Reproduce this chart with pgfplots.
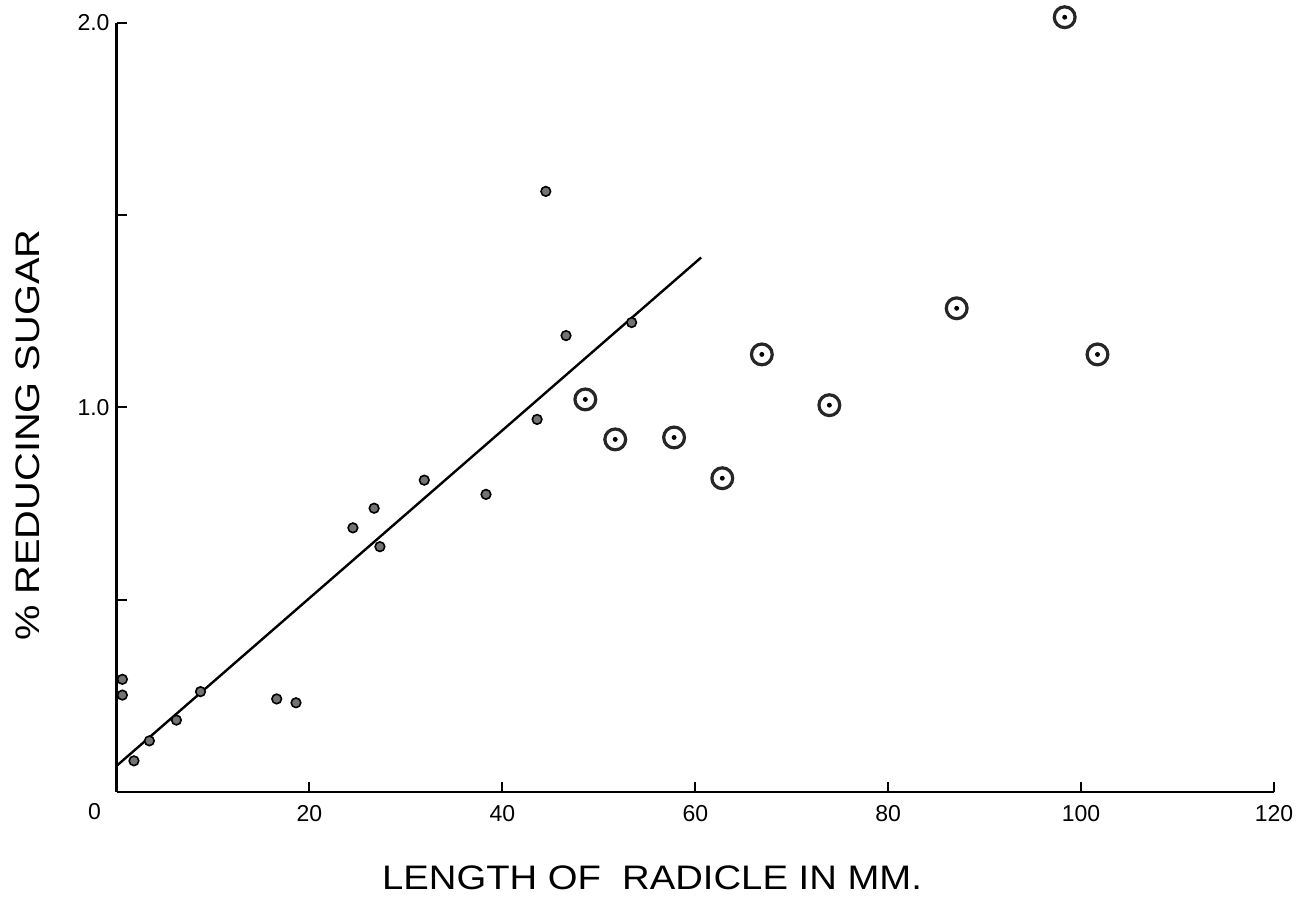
\documentclass[border=0pt]{standalone}
\usepackage{graphicx}
\usepackage{pgfplots}
\pgfplotsset{compat=1.18}
\usepackage{fontspec}
\setmainfont{Liberation Sans}
\begin{document}
\begin{tikzpicture}
\path[use as bounding box] (-58.3pt,-52.5pt) rectangle (590.7pt,396pt);
\begin{axis}[
  at={(0,0)}, anchor=south west,
  scale only axis, width=578.7pt, height=384.5pt,
  xmin=0, xmax=120, ymin=0, ymax=2,
  axis lines=left, axis line style={-, line width=1.1pt},
  xtick={0,20,40,60,80,100,120}, xticklabels={,20,40,60,80,100,120},
  ytick={0,0.5,1,1.5,2}, yticklabels={,,1.0,,2.0},
  tick align=inside, major tick length=5pt,
  tick style={line width=1pt, black},
  /pgf/number format/assume math mode=true,
  ticklabel style={font=\fontsize{11.5}{13}\selectfont},
  xticklabel style={yshift=-3pt},
  clip=false,
]
% regression line
\addplot[black, line width=1.2pt] coordinates {(0,0.068) (60.6,1.39)};
% small points
\addplot[only marks, mark=*, mark size=2.4pt, mark options={fill=black!55, draw=black, line width=0.8pt}] coordinates {
(0.6,0.293) (0.6,0.252) (1.8,0.081) (3.4,0.133) (6.2,0.187) (8.7,0.261)
(16.6,0.242) (18.6,0.232) (24.5,0.687) (26.7,0.738) (27.3,0.638)
(31.9,0.811) (38.3,0.774) (43.6,0.969) (44.5,1.562) (46.6,1.187) (53.4,1.221)
};
% large circled points
\addplot[only marks, mark=o, mark size=5.2pt, mark options={line width=1.6pt, draw=black!85}] coordinates {
(48.6,1.021) (51.7,0.917) (57.8,0.922) (62.8,0.816) (66.9,1.138)
(73.9,1.006) (87.1,1.258) (98.3,2.015) (101.7,1.138)
};
\addplot[only marks, mark=*, mark size=1pt, mark options={fill=black, draw=black}] coordinates {
(48.6,1.021) (51.7,0.917) (57.8,0.922) (62.8,0.816) (66.9,1.138)
(73.9,1.006) (87.1,1.258) (98.3,2.015) (101.7,1.138)
};
\node[font=\fontsize{11.5}{13}\selectfont] at ([xshift=-11pt, yshift=-10pt]axis cs:0,0) {0};
\node[font=\fontsize{17}{20}\selectfont, anchor=center] at ([yshift=-43pt]axis description cs:0.4626,0) {\scalebox{1.125}[1]{LENGTH OF\ \ RADICLE IN MM.}};
\node[font=\fontsize{17}{20}\selectfont, rotate=90, anchor=center] at ([xshift=-44.3pt]axis description cs:0,0.464) {\scalebox{1.17}[1]{\% REDUCING SUGAR}};
\end{axis}
\end{tikzpicture}
\end{document}
